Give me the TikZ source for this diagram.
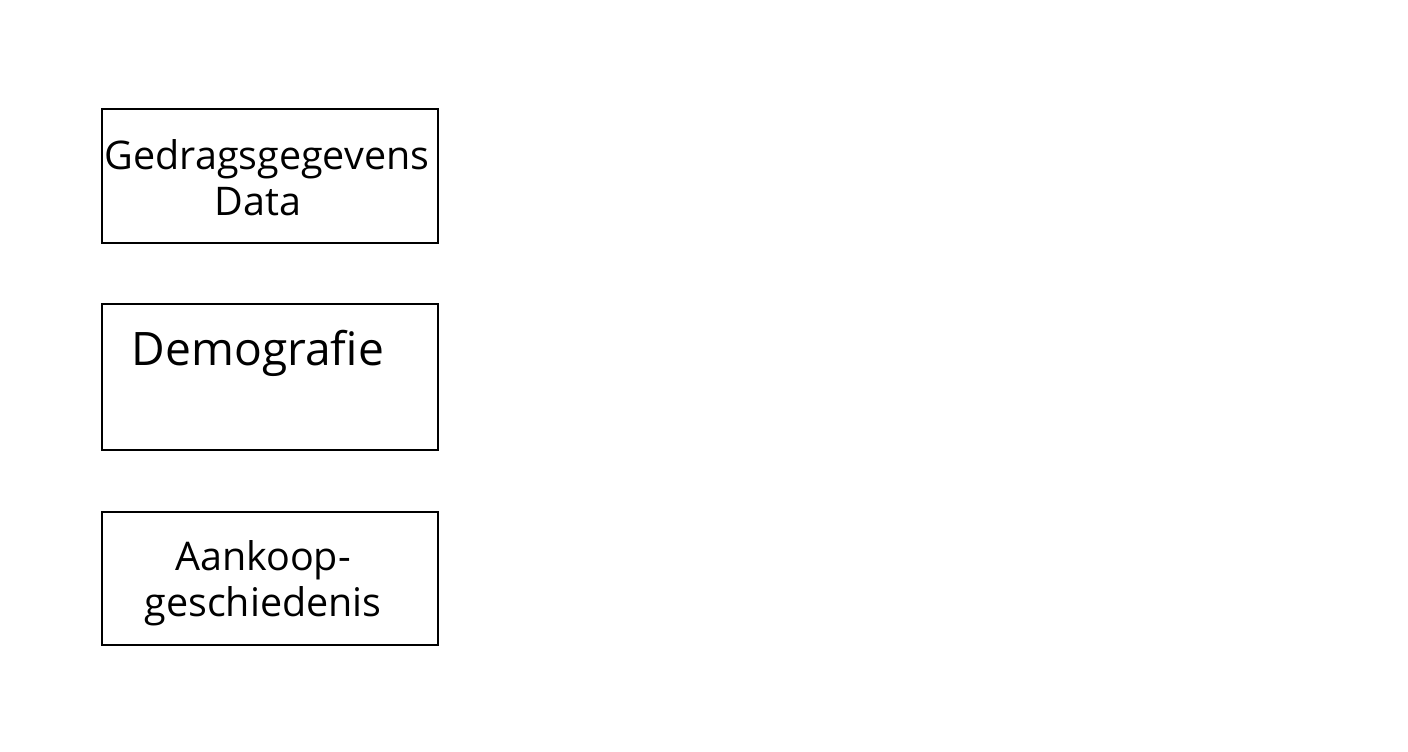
\documentclass[tikz,border=0pt]{standalone}
\usepackage{fontspec}
\setmainfont{Open Sans}
\begin{document}
\begin{tikzpicture}[x=0.75pt,y=-0.75pt,
  box/.style={draw=black,line width=1.6pt,minimum width=252pt,minimum height=#1,inner sep=0pt,anchor=north west},
  lbl/.style={align=center,inner sep=0pt,font=\fontsize{29.6pt}{34.5pt}\selectfont}]
\useasboundingbox (0,0) rectangle (1408,752);
\node[box=100.5pt] (b1) at (101,108) {};
\node[box=109.5pt] (b2) at (101,303) {};
\node[box=99.75pt] (b3) at (101,511) {};
\node[lbl] (t1) at (267,178) {Gedragsgegevens\\Data\hspace*{13.5pt}};
\node[lbl,font=\fontsize{34.6pt}{42pt}\selectfont] (t2) at (258,353) {Demografie};
\node[lbl] (t3) at (263,583) {Aankoop-\\geschiedenis};
\end{tikzpicture}
\end{document}
